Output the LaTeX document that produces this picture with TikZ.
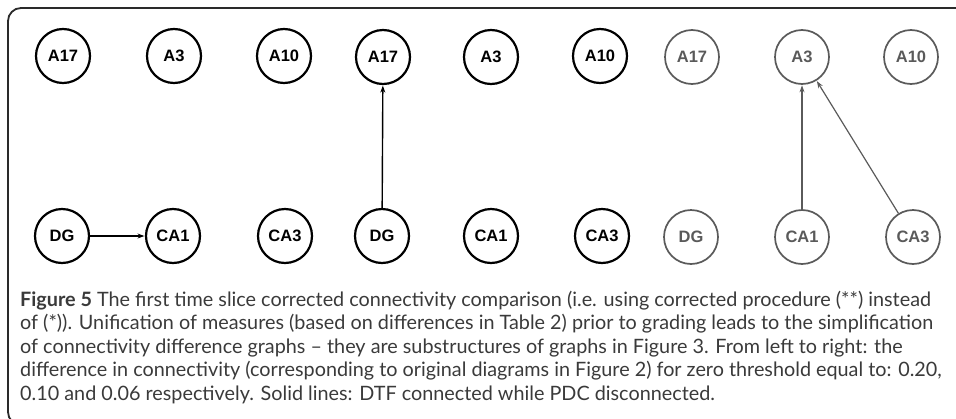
\documentclass[tikz,border=0pt]{standalone}
\usepackage{fontspec}
\setmainfont{Lato}
\newfontfamily\nodefont{Liberation Sans}
\usetikzlibrary{arrows.meta}
\definecolor{captext}{HTML}{3A3A3A}
\definecolor{framegray}{HTML}{2A2A2A}
\definecolor{lightnode}{HTML}{5A5A5A}
\tikzset{
  region/.style={circle, draw=black, line width=2.2pt, minimum size=54pt, inner sep=0pt,
    font=\nodefont\bfseries\fontsize{16.5}{16.5}\selectfont, text=black},
  faintregion/.style={region, draw=lightnode, line width=1.7pt, text=lightnode},
  link/.style={draw=black, line width=1.4pt, -{Stealth[length=7pt,width=5pt]}, shorten >=0.5pt},
  faintlink/.style={link, draw=lightnode, line width=1.2pt, -{Stealth[length=7pt,width=5pt,open]}},
  capline/.style={anchor=base west, inner sep=0pt, text=captext, font=\fontsize{19.8}{23}\selectfont}
}
\begin{document}
\begin{tikzpicture}[x=1pt, y=-1pt]
\useasboundingbox (0,0) rectangle (956,418);
% outer frame, running off the right and bottom edges
\begin{scope}
\clip (0,0) rectangle (956,418);
\draw[framegray, line width=1.8pt, rounded corners=13pt] (8,8) rectangle (990,425);
\end{scope}

% threshold 0.20
\node[region] (a17a) at (63,56) {A17};
\node[region] (a3a)  at (174,56) {A3};
\node[region] (a10a) at (284,56) {A10};
\node[region] (dga)  at (62,236) {DG};
\node[region] (ca1a) at (173,236) {CA1};
\node[region] (ca3a) at (285,236) {CA3};
\draw[link] (dga) -- (ca1a);

% threshold 0.10
\node[region] (a17b) at (383,57) {A17};
\node[region] (a3b)  at (491,57) {A3};
\node[region] (a10b) at (600,56) {A10};
\node[region] (dgb)  at (382,236) {DG};
\node[region] (ca1b) at (491,236) {CA1};
\node[region] (ca3b) at (602,236) {CA3};
\draw[link] (dgb) -- (a17b);

% threshold 0.06
\node[faintregion] (a17c) at (692,57) {A17};
\node[faintregion] (a3c)  at (802,57) {A3};
\node[faintregion] (a10c) at (911,57) {A10};
\node[faintregion] (dgc)  at (691,237) {DG};
\node[faintregion] (ca1c) at (802,237) {CA1};
\node[faintregion] (ca3c) at (913,237) {CA3};
\draw[faintlink] (ca1c) -- (a3c);
\draw[faintlink] (ca3c) -- (a3c);

% caption
\node[capline] (l1) at (20,306) {\textbf{Figure 5} The first time slice corrected connectivity comparison (i.e. using corrected procedure (**) instead};
\node[capline] (l2) at (20,329.5) {of (*)). Unification of measures (based on differences in Table 2) prior to grading leads to the simplification};
\node[capline] (l3) at (20,353) {of connectivity difference graphs – they are substructures of graphs in Figure 3. From left to right: the};
\node[capline] (l4) at (20,376.5) {difference in connectivity (corresponding to original diagrams in Figure 2) for zero threshold equal to: 0.20,};
\node[capline] (l5) at (20,400) {0.10 and 0.06 respectively. Solid lines: DTF connected while PDC disconnected.};
\end{tikzpicture}
\end{document}
